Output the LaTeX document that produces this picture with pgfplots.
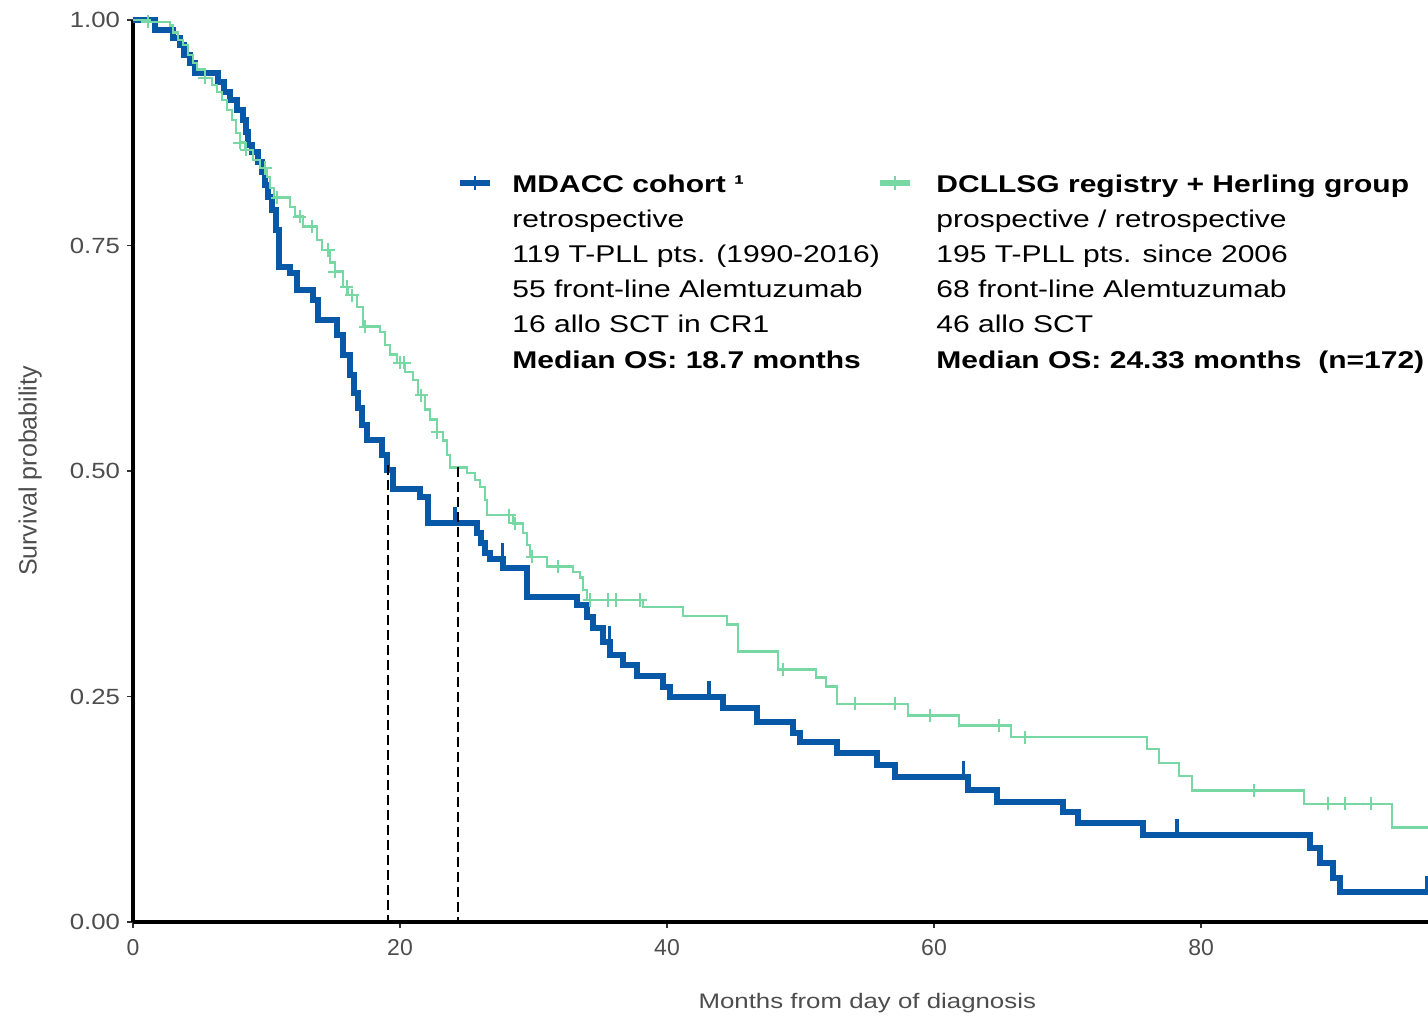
\documentclass[border=0pt]{standalone}
\usepackage{fontspec}
\setmainfont{Liberation Sans}
\usepackage{graphicx}
\usepackage{pgfplots}
\pgfplotsset{compat=1.18}
\definecolor{mdblue}{RGB}{8,88,168}
\definecolor{dcgreen}{RGB}{120,216,164}
\definecolor{ticktxt}{RGB}{77,77,77}
\pgfdeclareplotmark{uptick}{\pgfpathmoveto{\pgfpointorigin}\pgfpathlineto{\pgfpoint{0pt}{\pgfplotmarksize}}\pgfusepathqstroke}
\newcommand{\ys}[1]{\scalebox{1.17}[1]{#1}}
\begin{document}
\begin{tikzpicture}
\begin{axis}[
  scale only axis, width=647.5pt, height=451pt,
  xmin=0, xmax=97, ymin=0, ymax=1, clip=false,
  axis lines=left, axis line style={-, line width=2.2pt, black},
  xtick={0,20,40,60,80}, xticklabels={0,20,40,60,80},
  ytick={0,0.25,0.5,0.75,1},
  yticklabels={\ys{0.00},\ys{0.25},\ys{0.50},\ys{0.75},\ys{1.00}},
  tick align=outside, major tick length=3pt,
  tick style={black!80, line width=0.8pt},
  xticklabel style={font=\fontsize{11.5}{13}\selectfont, text=ticktxt, yshift=-2pt},
  yticklabel style={font=\fontsize{11}{12}\selectfont, text=ticktxt},
  xlabel={\scalebox{1.23}[1]{Months from day of diagnosis}},
  xlabel style={at={(axis description cs:0.567,-0.0895)}, anchor=center, font=\fontsize{10.5}{12}\selectfont, text=ticktxt},
  ylabel={Survival probability},
  ylabel style={at={(axis description cs:-0.0795,0.5)}, anchor=center, font=\fontsize{12.5}{14}\selectfont, text=ticktxt},
]
\coordinate (BL) at (rel axis cs:0,0);
\coordinate (TR) at (rel axis cs:1,1);
% MDACC cohort
\addplot[const plot, mdblue, line width=3pt, line cap=butt] coordinates {
(0,1.000) (1.65,0.989) (3.00,0.980) (3.52,0.972) (3.82,0.961) (4.27,0.952) (4.64,0.941)
(6.37,0.931) (6.82,0.920) (7.27,0.911) (7.79,0.900) (8.24,0.889) (8.46,0.876) (8.61,0.861)
(8.91,0.854) (9.36,0.843) (9.66,0.831) (9.89,0.817) (10.11,0.804) (10.41,0.789) (10.71,0.767)
(10.94,0.726) (11.76,0.720) (12.28,0.701) (13.48,0.690) (13.86,0.667) (15.28,0.651) (15.73,0.629)
(16.25,0.606) (16.55,0.586) (16.85,0.570) (17.15,0.551) (17.53,0.534) (18.65,0.518) (19.03,0.501)
(19.48,0.480) (21.50,0.471) (22.10,0.442) (25.77,0.431) (26.07,0.420) (26.37,0.409) (26.74,0.402)
(27.72,0.392) (29.51,0.360) (33.26,0.351) (34.01,0.338) (34.46,0.326) (35.21,0.310) (35.73,0.296)
(36.70,0.285) (37.75,0.273) (39.70,0.261) (40.22,0.249) (44.19,0.237) (46.74,0.222) (49.44,0.210)
(49.96,0.200) (52.73,0.187) (55.73,0.174) (57.08,0.161) (62.55,0.146) (64.72,0.133) (69.66,0.122)
(70.79,0.110) (75.66,0.0965) (88.16,0.082) (88.91,0.065) (89.89,0.049) (90.41,0.033) (97.0,0.033)
};
\addplot[only marks, mark=uptick, mark size=8pt, mdblue, line width=1.6pt] coordinates {
(24.12,0.442) (27.7,0.402) (35.7,0.310) (43.15,0.249) (62.2,0.161) (78.2,0.0965) (96.9,0.033)
};
% DCLLSG registry
\addplot[const plot, dcgreen, line width=1.2pt] coordinates {
(0,1.000) (1.27,0.998) (2.77,0.994) (3.00,0.986) (3.37,0.978) (3.75,0.972) (4.12,0.961)
(4.49,0.952) (4.79,0.945) (5.39,0.936) (5.92,0.928) (6.29,0.920) (6.67,0.911) (7.04,0.900)
(7.42,0.889) (7.72,0.875) (8.01,0.864) (8.39,0.856) (8.99,0.845) (9.51,0.836) (10.04,0.826)
(10.26,0.814) (10.56,0.803) (11.76,0.793) (12.13,0.782) (12.73,0.771) (13.78,0.756) (14.16,0.745)
(14.76,0.731) (15.13,0.721) (15.73,0.704) (16.10,0.695) (16.78,0.682) (17.23,0.660) (18.50,0.654)
(18.88,0.640) (19.25,0.629) (19.78,0.620) (20.37,0.610) (20.97,0.601) (21.35,0.584) (21.87,0.568)
(22.25,0.557) (22.77,0.543) (23.22,0.534) (23.52,0.518) (23.75,0.504) (25.02,0.498) (25.62,0.490)
(25.99,0.482) (26.37,0.468) (26.52,0.451) (28.46,0.442) (29.21,0.431) (29.51,0.418) (29.74,0.405)
(31.01,0.394) (32.96,0.388) (33.48,0.382) (33.71,0.368) (34.01,0.357) (38.20,0.349) (41.20,0.339)
(44.49,0.330) (45.32,0.300) (48.31,0.280) (51.16,0.271) (51.91,0.261) (52.73,0.242) (58.05,0.229)
(61.87,0.218) (65.77,0.205) (75.96,0.192) (76.85,0.176) (78.35,0.162) (79.33,0.146) (87.72,0.131)
(94.31,0.105) (97.0,0.105)
};
\addplot[only marks, mark=+, mark size=3.3pt, dcgreen, line width=1pt] coordinates {
(1.12,0.998) (5.39,0.936) (8.01,0.864) (8.5,0.856) (9.9,0.836) (10.8,0.803) (12.5,0.782)
(13.4,0.771) (14.6,0.745) (15.1,0.721) (16.0,0.704) (16.4,0.695) (17.4,0.660) (20.0,0.620)
(20.3,0.620) (21.6,0.584) (22.8,0.543) (28.2,0.451) (28.6,0.442) (29.9,0.405) (31.8,0.394)
(34.2,0.357) (35.6,0.357) (36.2,0.357) (38.0,0.357) (48.7,0.280) (54.1,0.242) (57.1,0.242)
(59.7,0.229) (64.9,0.218) (66.8,0.205) (84.0,0.146) (89.5,0.131) (90.8,0.131) (92.7,0.131)
};
% median lines
\addplot[black, line width=1pt, dash pattern=on 5pt off 2.5pt] coordinates {(19.1,0.507) (19.1,0)};
\addplot[black, line width=1pt, dash pattern=on 5pt off 2.5pt] coordinates {(24.35,0.505) (24.35,0)};
% legend
\draw[mdblue, line width=3pt] (axis cs:24.49,0.819) -- (axis cs:26.74,0.819);
\draw[mdblue, line width=1.2pt] (axis cs:25.62,0.811) -- (axis cs:25.62,0.827);
\draw[dcgreen, line width=3pt] (axis cs:55.96,0.819) -- (axis cs:58.2,0.819);
\draw[dcgreen, line width=1.2pt] (axis cs:57.08,0.811) -- (axis cs:57.08,0.827);
\node[anchor=north west, inner sep=0pt] at (axis cs:28.39,0.837) {\scalebox{1.24}[1]{\fontsize{12.1}{17.6}\selectfont\begin{tabular}{@{}l@{}}\textbf{MDACC cohort ¹}\\ retrospective\\ 119 T-PLL pts. (1990-2016)\\ 55 front-line Alemtuzumab\\ 16 allo SCT in CR1\\ \textbf{Median OS: 18.7 months}\end{tabular}}};
\node[anchor=north west, inner sep=0pt] at (axis cs:60.15,0.837) {\scalebox{1.24}[1]{\fontsize{12.1}{17.6}\selectfont\begin{tabular}{@{}l@{}}\textbf{DCLLSG registry + Herling group}\\ prospective / retrospective\\ 195 T-PLL pts. since 2006\\ 68 front-line Alemtuzumab\\ 46 allo SCT\\ \textbf{Median OS: 24.33 months\ \ (n=172)}\end{tabular}}};
\end{axis}
\pgfresetboundingbox
\path ([shift={(-66.5pt,-48.5pt)}]BL) rectangle ([shift={(0pt,10pt)}]TR);
\end{tikzpicture}
\end{document}
